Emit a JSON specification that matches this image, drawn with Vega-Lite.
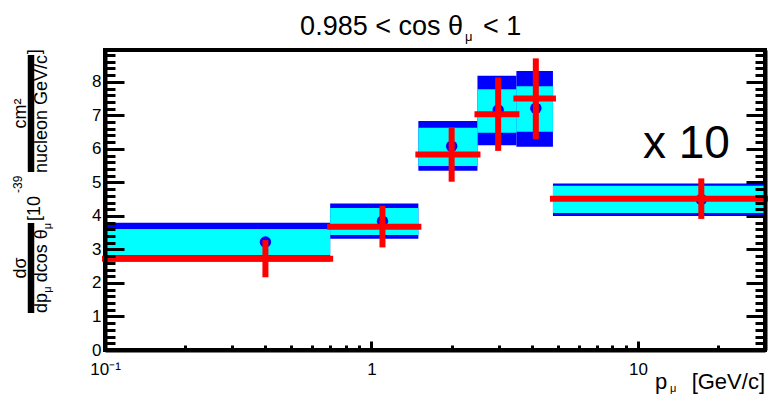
{
  "$schema": "https://vega.github.io/schema/vega-lite/v6.json",
  "width": 660,
  "height": 300,
  "autosize": {"type": "none"},
  "padding": {"left": 105, "top": 50, "right": 3, "bottom": 45},
  "config": {
    "view": {"stroke": "#000000", "strokeWidth": 4, "strokeOpacity": 1},
    "font": "Liberation Sans",
    "text": {"font": "Liberation Sans", "color": "black"}
  },
  "data": {
    "values": [
      {"lo": 0.1, "hi": 0.7, "p": 0.40, "xsec": 3.22, "statLo": 2.83, "statHi": 3.61, "sysLo": 2.64, "sysHi": 3.80, "mc": 2.72, "mcLo": 2.17, "mcHi": 3.28},
      {"lo": 0.7, "hi": 1.5, "p": 1.10, "xsec": 3.84, "statLo": 3.43, "statHi": 4.24, "sysLo": 3.32, "sysHi": 4.37, "mc": 3.68, "mcLo": 3.06, "mcHi": 4.30},
      {"lo": 1.5, "hi": 2.5, "p": 2.00, "xsec": 6.08, "statLo": 5.49, "statHi": 6.63, "sysLo": 5.35, "sysHi": 6.83, "mc": 5.83, "mcLo": 5.02, "mcHi": 6.63},
      {"lo": 2.5, "hi": 3.5, "p": 2.99, "xsec": 7.16, "statLo": 6.48, "statHi": 7.78, "sysLo": 6.11, "sysHi": 8.18, "mc": 7.03, "mcLo": 5.94, "mcHi": 8.13},
      {"lo": 3.5, "hi": 4.8, "p": 4.14, "xsec": 7.21, "statLo": 6.51, "statHi": 7.87, "sysLo": 6.06, "sysHi": 8.32, "mc": 7.50, "mcLo": 6.29, "mcHi": 8.70},
      {"lo": 4.8, "hi": 30, "p": 17.3, "xsec": 4.49, "statLo": 4.09, "statHi": 4.90, "sysLo": 4.00, "sysHi": 4.97, "mc": 4.51, "mcLo": 3.91, "mcHi": 5.12}
    ]
  },
  "layer": [
    {
      "mark": {"type": "rect", "color": "#0000ff"},
      "encoding": {
        "x": {"field": "lo", "type": "quantitative",
          "scale": {"type": "log", "domain": [0.1, 30], "nice": false},
          "axis": {"orient": "bottom", "title": null, "grid": false, "ticks": false, "domain": true, "domainColor": "#000000", "domainWidth": 4,
            "values": [0.1, 1, 10], "labelExpr": "datum.value < 0.5 ? '10⁻¹' : (datum.value < 5 ? '1' : '10')",
            "labelFontSize": 17, "labelPadding": 11, "labelColor": "black", "labelFont": "Liberation Sans", "labelFlush": false, "labelOverlap": false, "zindex": 1}},
        "x2": {"field": "hi"},
        "y": {"field": "sysLo", "type": "quantitative",
          "scale": {"domain": [0, 8.95], "nice": false, "zero": false},
          "axis": {"orient": "left", "title": null, "grid": false, "ticks": false, "domain": true, "domainColor": "#000000", "domainWidth": 4,
            "values": [0, 1, 2, 3, 4, 5, 6, 7, 8], "labelFontSize": 17, "labelPadding": 4, "labelColor": "black", "labelFont": "Liberation Sans", "labelFlush": false, "labelOverlap": false, "zindex": 1}},
        "y2": {"field": "sysHi"}
      }
    },
    {
      "mark": {"type": "rect", "color": "#00ffff"},
      "encoding": {
        "x": {"field": "lo", "type": "quantitative",
          "axis": {"orient": "bottom", "title": null, "grid": false, "labels": false, "domain": false, "values": [1, 10], "tickSize": -9, "tickWidth": 3, "tickColor": "#000000", "zindex": 1}},
        "x2": {"field": "hi"},
        "y": {"field": "statLo", "type": "quantitative",
          "axis": {"orient": "left", "title": null, "grid": false, "labels": false, "domain": false, "values": [1, 2, 3, 4, 5, 6, 7, 8], "tickSize": -19, "tickWidth": 3, "tickColor": "#000000", "zindex": 1}},
        "y2": {"field": "statHi"}
      }
    },
    {
      "mark": {"type": "circle", "color": "#0000ff", "opacity": 1, "size": 130},
      "encoding": {
        "x": {"field": "p", "type": "quantitative",
          "axis": {"orient": "bottom", "title": null, "grid": false, "labels": false, "domain": false, "values": [0.2, 0.3, 0.4, 0.5, 0.6, 0.7, 0.8, 0.9, 2, 3, 4, 5, 6, 7, 8, 9, 20], "tickSize": -5, "tickWidth": 3, "tickColor": "#000000", "zindex": 1}},
        "y": {"field": "xsec", "type": "quantitative",
          "axis": {"orient": "left", "title": null, "grid": false, "labels": false, "domain": false,
            "values": [0.2, 0.4, 0.6, 0.8, 1.2, 1.4, 1.6, 1.8, 2.2, 2.4, 2.6, 2.8, 3.2, 3.4, 3.6, 3.8, 4.2, 4.4, 4.6, 4.8, 5.2, 5.4, 5.6, 5.8, 6.2, 6.4, 6.6, 6.8, 7.2, 7.4, 7.6, 7.8, 8.2, 8.4, 8.6, 8.8],
            "tickSize": -10, "tickWidth": 3, "tickColor": "#000000", "zindex": 1}}
      }
    },
    {
      "mark": {"type": "rule", "color": "#ff0000", "strokeWidth": 6, "strokeCap": "square"},
      "encoding": {
        "x": {"field": "lo", "type": "quantitative", "axis": null},
        "x2": {"field": "hi"},
        "y": {"field": "mc", "type": "quantitative",
          "axis": {"orient": "right", "title": null, "grid": false, "labels": false, "domain": true, "domainColor": "#000000", "domainWidth": 4, "values": [1, 2, 3, 4, 5, 6, 7, 8], "tickSize": -19, "tickWidth": 3, "tickColor": "#000000", "zindex": 1}}
      }
    },
    {
      "mark": {"type": "rule", "color": "#ff0000", "strokeWidth": 6},
      "encoding": {
        "x": {"field": "p", "type": "quantitative", "axis": null},
        "y": {"field": "mcLo", "type": "quantitative",
          "axis": {"orient": "right", "title": null, "grid": false, "labels": false, "domain": false,
            "values": [0.2, 0.4, 0.6, 0.8, 1.2, 1.4, 1.6, 1.8, 2.2, 2.4, 2.6, 2.8, 3.2, 3.4, 3.6, 3.8, 4.2, 4.4, 4.6, 4.8, 5.2, 5.4, 5.6, 5.8, 6.2, 6.4, 6.6, 6.8, 7.2, 7.4, 7.6, 7.8, 8.2, 8.4, 8.6, 8.8],
            "tickSize": -10, "tickWidth": 3, "tickColor": "#000000", "zindex": 1}},
        "y2": {"field": "mcHi"}
      }
    },
    {
      "data": {"values": [{}]},
      "mark": {"type": "text", "text": "x 10", "fontSize": 46, "align": "left", "baseline": "alphabetic"},
      "encoding": {"x": {"datum": 10.45, "type": "quantitative", "axis": null}, "y": {"datum": 5.728, "type": "quantitative", "axis": null}}
    },
    {
      "data": {"values": [{}]},
      "mark": {"type": "text", "text": "0.985 < cos θ", "fontSize": 27, "align": "right", "baseline": "alphabetic"},
      "encoding": {"x": {"datum": 2.206, "type": "quantitative", "axis": null}, "y": {"datum": 9.397, "type": "quantitative", "axis": null}}
    },
    {
      "data": {"values": [{}]},
      "mark": {"type": "text", "text": "μ", "fontSize": 13, "align": "left", "baseline": "alphabetic"},
      "encoding": {"x": {"datum": 2.245, "type": "quantitative", "axis": null}, "y": {"datum": 9.218, "type": "quantitative", "axis": null}}
    },
    {
      "data": {"values": [{}]},
      "mark": {"type": "text", "text": "< 1", "fontSize": 27, "align": "left", "baseline": "alphabetic"},
      "encoding": {"x": {"datum": 2.623, "type": "quantitative", "axis": null}, "y": {"datum": 9.397, "type": "quantitative", "axis": null}}
    },
    {
      "data": {"values": [{}]},
      "mark": {"type": "text", "text": "p", "fontSize": 22, "align": "left", "baseline": "alphabetic"},
      "encoding": {"x": {"datum": 11.6, "type": "quantitative", "axis": null}, "y": {"datum": -1.163, "type": "quantitative", "axis": null}}
    },
    {
      "data": {"values": [{}]},
      "mark": {"type": "text", "text": "μ", "fontSize": 11, "align": "left", "baseline": "alphabetic"},
      "encoding": {"x": {"datum": 13.2, "type": "quantitative", "axis": null}, "y": {"datum": -1.25, "type": "quantitative", "axis": null}}
    },
    {
      "data": {"values": [{}]},
      "mark": {"type": "text", "text": "[GeV/c]", "fontSize": 22, "align": "right", "baseline": "alphabetic"},
      "encoding": {"x": {"datum": 30, "type": "quantitative", "axis": null}, "y": {"datum": -1.163, "type": "quantitative", "axis": null}}
    },
    {
      "data": {"values": [{}]},
      "mark": {"type": "rule", "color": "black", "strokeWidth": 6.5},
      "encoding": {"x": {"datum": 0.05276, "type": "quantitative", "axis": null}, "y": {"datum": 1.104, "type": "quantitative", "axis": null}, "y2": {"datum": 3.789}}
    },
    {
      "data": {"values": [{}]},
      "mark": {"type": "rule", "color": "black", "strokeWidth": 6.5},
      "encoding": {"x": {"datum": 0.05276, "type": "quantitative", "axis": null}, "y": {"datum": 5.31, "type": "quantitative", "axis": null}, "y2": {"datum": 8.801}}
    },
    {
      "data": {"values": [{}]},
      "mark": {"type": "text", "text": "dσ", "fontSize": 18, "angle": 270, "align": "center", "baseline": "alphabetic"},
      "encoding": {"x": {"datum": 0.05052, "type": "quantitative", "axis": null}, "y": {"datum": 2.446, "type": "quantitative", "axis": null}}
    },
    {
      "data": {"values": [{}]},
      "mark": {"type": "text", "text": "dp", "fontSize": 18, "angle": 270, "align": "left", "baseline": "alphabetic"},
      "encoding": {"x": {"datum": 0.06057, "type": "quantitative", "axis": null}, "y": {"datum": 1.104, "type": "quantitative", "axis": null}}
    },
    {
      "data": {"values": [{}]},
      "mark": {"type": "text", "text": "μ", "fontSize": 11, "angle": 270, "align": "left", "baseline": "alphabetic"},
      "encoding": {"x": {"datum": 0.0627, "type": "quantitative", "axis": null}, "y": {"datum": 1.71, "type": "quantitative", "axis": null}}
    },
    {
      "data": {"values": [{}]},
      "mark": {"type": "text", "text": "dcos θ", "fontSize": 18, "angle": 270, "align": "left", "baseline": "alphabetic"},
      "encoding": {"x": {"datum": 0.06057, "type": "quantitative", "axis": null}, "y": {"datum": 2.02, "type": "quantitative", "axis": null}}
    },
    {
      "data": {"values": [{}]},
      "mark": {"type": "text", "text": "μ", "fontSize": 11, "angle": 270, "align": "left", "baseline": "alphabetic"},
      "encoding": {"x": {"datum": 0.0627, "type": "quantitative", "axis": null}, "y": {"datum": 3.6, "type": "quantitative", "axis": null}}
    },
    {
      "data": {"values": [{}]},
      "mark": {"type": "text", "text": "[10", "fontSize": 18, "angle": 270, "align": "left", "baseline": "alphabetic"},
      "encoding": {"x": {"datum": 0.05702, "type": "quantitative", "axis": null}, "y": {"datum": 3.85, "type": "quantitative", "axis": null}}
    },
    {
      "data": {"values": [{}]},
      "mark": {"type": "text", "text": "-39", "fontSize": 12, "angle": 270, "align": "left", "baseline": "alphabetic"},
      "encoding": {"x": {"datum": 0.0488, "type": "quantitative", "axis": null}, "y": {"datum": 4.684, "type": "quantitative", "axis": null}}
    },
    {
      "data": {"values": [{}]},
      "mark": {"type": "text", "text": "cm²", "fontSize": 18, "angle": 270, "align": "center", "baseline": "alphabetic"},
      "encoding": {"x": {"datum": 0.05052, "type": "quantitative", "axis": null}, "y": {"datum": 7.056, "type": "quantitative", "axis": null}}
    },
    {
      "data": {"values": [{}]},
      "mark": {"type": "text", "text": "nucleon GeV/c", "fontSize": 18, "angle": 270, "align": "center", "baseline": "alphabetic"},
      "encoding": {"x": {"datum": 0.06057, "type": "quantitative", "axis": null}, "y": {"datum": 7.041, "type": "quantitative", "axis": null}}
    },
    {
      "data": {"values": [{}]},
      "mark": {"type": "text", "text": "]", "fontSize": 18, "angle": 270, "align": "left", "baseline": "alphabetic"},
      "encoding": {"x": {"datum": 0.05702, "type": "quantitative", "axis": null}, "y": {"datum": 8.82, "type": "quantitative", "axis": null}}
    }
  ],
  "resolve": {"axis": {"x": "independent", "y": "independent"}}
}
